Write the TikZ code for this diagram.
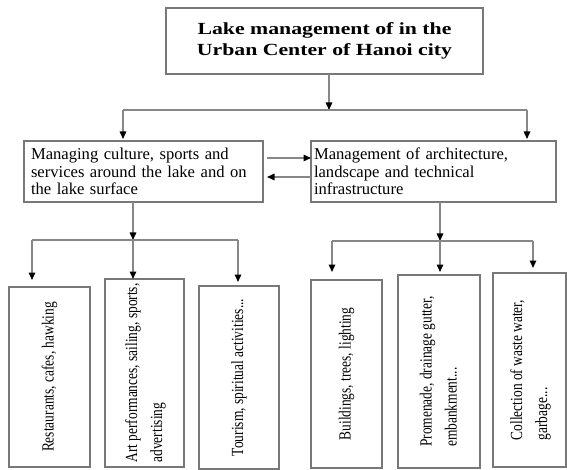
\documentclass[tikz,border=0pt]{standalone}
\usepackage{fontspec}
\setmainfont{Liberation Serif}
\newfontfamily\titlefont[FakeStretch=1.28]{Liberation Serif}
\newfontfamily\leaffont[FakeStretch=0.79]{Liberation Serif}
\usepackage{xcolor}
\usepackage{tikz}
\usetikzlibrary{arrows.meta, positioning, calc}
\definecolor{framegray}{RGB}{120,120,120}
\definecolor{linegray}{RGB}{135,135,135}
\tikzstyle{topbox} = [rectangle, draw=framegray, line width=1.8pt, outer sep=0pt, minimum width=317pt, minimum height=66pt, text centered, align=center, font=\titlefont\bfseries\fontsize{17}{21}\selectfont]
\tikzstyle{branch} = [rectangle, draw=framegray, line width=1.8pt, outer sep=0pt, minimum height=61pt, align=left, font=\fontsize{16.6}{17.5}\selectfont]
\tikzstyle{leaf} = [rectangle, draw=framegray, line width=1.8pt, outer sep=0pt, inner sep=0pt, font=\leaffont\fontsize{17}{25}\selectfont]
\tikzstyle{line} = [draw=linegray, line width=1.5pt]
\tikzstyle{arrow} = [line, -{Triangle[length=7.5pt, width=6.5pt, color=black]}]

\begin{document}
\begin{tikzpicture}[x=1pt, y=-1pt]
                  \useasboundingbox (0,0) rectangle (567,470);
                  \node (title) [topbox] at (324.5,41) {Lake management of in the\\Urban Center of Hanoi city};
                  \node (cult) [branch, below=67pt of title, xshift=-181pt, inner xsep=7pt, text width=225pt] {Managing culture, sports and\\services around the lake and on\\the lake surface};
                  \node (arch) [branch, right=48pt of cult, inner xsep=3pt, text width=239pt] {Management of architecture,\\landscape and technical\\infrastructure};

                  \node (rest) [leaf, minimum width=81pt, minimum height=180pt] at (49.5,377) {\rotatebox{90}{Restaurants, cafes, hawking}};
                  \node (art) [leaf, minimum width=79pt, minimum height=188pt] at (144.5,373) {\rotatebox{90}{\begin{tabular}{@{}l@{}}Art performances, sailing, sports,\\advertising\end{tabular}}};
                  \node (tour) [leaf, minimum width=80pt, minimum height=183pt] at (239,377.5) {\rotatebox{90}{Tourism, spiritual activities...}};
                  \node (build) [leaf, minimum width=71pt, minimum height=188pt] at (346.5,374) {\rotatebox{90}{Buildings, trees, lighting}};
                  \node (prom) [leaf, minimum width=82pt, minimum height=193pt] at (439,371.5) {\rotatebox{90}{\begin{tabular}{@{}l@{}}Promenade, drainage gutter,\\embankment...\end{tabular}}};
                  \node (waste) [leaf, minimum width=73pt, minimum height=194pt] at (529.5,370) {\rotatebox{90}{\begin{tabular}{@{}l@{}}Collection of waste water,\\garbage...\end{tabular}}};

                  % top split
                  \coordinate (topsplit) at (329,110);
                  \coordinate (leftend) at (123,110);
                  \coordinate (rightend) at (527,110);
                  \draw [arrow] (title.south -| topsplit) -- (topsplit);
                  \draw [line] (leftend) -- (rightend);
                  \draw [arrow, shorten >=2pt] (leftend) -- (leftend |- cult.north);
                  \draw [arrow, shorten >=2pt] (rightend) -- (rightend |- arch.north);
                  \draw [arrow] ([xshift=4pt, yshift=13.5pt]cult.east) -- ([yshift=13.5pt]arch.west);
                  \draw [arrow] ([yshift=-5.5pt]arch.west) -- ([xshift=4pt, yshift=-5.5pt]cult.east);

                  % left group
                  \coordinate (lsplit) at (133,240);
                  \coordinate (lleft) at (32,240);
                  \coordinate (lright) at (238,240);
                  \draw [arrow] (cult.south -| lsplit) -- (lsplit);
                  \draw [line] (lleft) -- (lright);
                  \draw [arrow, shorten >=7pt] (lleft) -- (lleft |- rest.north);
                  \draw [arrow] (lsplit) -- (lsplit |- art.north);
                  \draw [arrow, shorten >=4pt] (lright) -- (lright |- tour.north);

                  % right group
                  \coordinate (rsplit) at (440,241);
                  \coordinate (rleft) at (332,241);
                  \coordinate (rright) at (533,241);
                  \draw [arrow] (arch.south -| rsplit) -- (rsplit);
                  \draw [line] (rleft) -- (rright);
                  \draw [arrow, shorten >=8pt] (rleft) -- (rleft |- build.north);
                  \draw [arrow, shorten >=3pt] (rsplit) -- (rsplit |- prom.north);
                  \draw [arrow, shorten >=5pt] (rright) -- (rright |- waste.north);
\end{tikzpicture}
\end{document}
